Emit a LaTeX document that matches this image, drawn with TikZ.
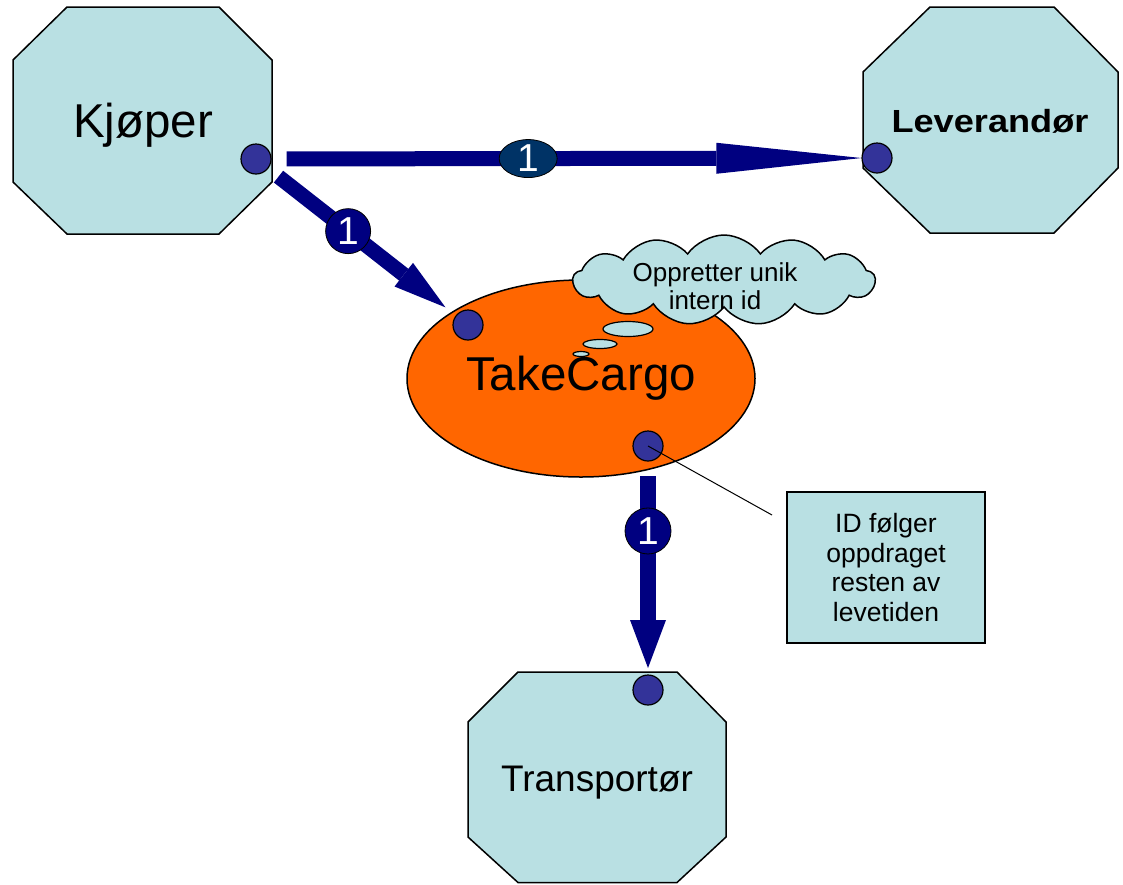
\documentclass[tikz,border=0pt]{standalone}
\usepackage{fontspec}
\setmainfont{Liberation Sans}
\usetikzlibrary{arrows.meta,shapes.geometric,shapes.symbols}
\definecolor{octblue}{RGB}{185,224,227}
\definecolor{portblue}{RGB}{51,51,153}
\definecolor{flownavy}{RGB}{0,0,128}
\definecolor{numblue}{RGB}{0,51,102}
\definecolor{cargo}{RGB}{255,102,0}
\tikzset{
  octa/.style={draw=black,line width=1.5pt,fill=octblue},
  port/.style={circle,draw=black,line width=1.2pt,fill=portblue,minimum size=30pt,inner sep=0pt},
  flow/.style={draw=flownavy,line width=15pt},
  num/.style={circle,draw=black,line width=0.8pt,fill=flownavy,text=white,minimum size=45pt,inner sep=0pt,font=\fontsize{39}{39}\selectfont},
  bubble/.style={draw=black,line width=1.2pt,fill=octblue}
}
\begin{document}
\begin{tikzpicture}[x=1pt,y=-1pt]
	\useasboundingbox (0,0) rectangle (1123,884);
	% actors
	\draw[octa] (67,7)--(219,7)--(272,60)--(272,182)--(219,234)--(67,234)--(13,182)--(13,60)--cycle;
	\draw[octa] (930,7)--(1054,7)--(1118,72)--(1118,168)--(1054,233)--(930,233)--(863,168)--(863,72)--cycle;
	\draw[octa] (518,672)--(677,672)--(726,722)--(726,837)--(677,882.5)--(518,882.5)--(468,837)--(468,722)--cycle;
	\node[anchor=base,font=\fontsize{47.5}{47.5}\selectfont] (kjoper) at (143,137) {Kjøper};
	\node[anchor=base,font=\fontsize{32}{32}\selectfont\bfseries] (leverandor) at (990,132) {\scalebox{1.13}[1]{Leverandør}};
	\node[anchor=base,font=\fontsize{37}{37}\selectfont] (transportor) at (597,791) {Transportør};
	% takecargo
	\node[ellipse,draw=black,line width=1.5pt,fill=cargo,minimum width=348pt,minimum height=197pt,font=\fontsize{47.5}{47.5}\selectfont] (takecargo) at (581,378.5) {TakeCargo};
	\node[cloud,cloud puffs=13,cloud puff arc=110,cloud ignores aspect,draw=black,line width=1.5pt,fill=octblue,minimum width=302pt,minimum height=90pt] (idcloud) at (724,280) {};
	\node[align=center,font=\fontsize{26}{28}\selectfont] (cloudtxt) at (715,286) {Oppretter unik\\intern id};
	\draw[bubble] (628,329) ellipse (25 and 7.5);
	\draw[bubble] (600,344) ellipse (17 and 4.5);
	\draw[bubble] (581,354) ellipse (8 and 2.5);
	% ports
	\node[port] (kjport) at (256,159) {};
	\node[port] (levport) at (877,158) {};
	\node[port] (tcin) at (468,325) {};
	\node[port] (tcout) at (648,446) {};
	\node[port] (trport) at (648,690) {};
	% flows
	\draw[flow,-{Triangle[length=145pt,width=31pt,line width=0pt]},shorten <=15pt] (kjport) -- (levport)
		node[num,ellipse,fill=numblue,minimum width=58pt,minimum height=38pt,pos=.435] (num1) {1};
	\draw[flow,-{Triangle[length=53pt,width=30pt,line width=0pt]},shorten <=13pt,shorten >=13pt] (kjport) -- (tcin)
		node[num,pos=.426] (num2) {1};
	\draw[flow,line width=16pt,-{Triangle[length=48pt,width=36pt,line width=0pt]},shorten <=14.4pt,shorten >=6.4pt] (tcout) -- (trport)
		node[num,minimum size=46pt,pos=.326] (num3) {1};
	% note
	\node[draw=black,line width=1.5pt,fill=octblue,minimum width=198pt,minimum height=151pt,align=center,font=\fontsize{26.5}{29.7}\selectfont] (idnote) at (886,567.5) {ID følger\\oppdraget\\resten av\\levetiden};
	\coordinate (noteend) at (772,515);
	\draw[line width=1pt] (tcout.center) -- (noteend);
\end{tikzpicture}
\end{document}
